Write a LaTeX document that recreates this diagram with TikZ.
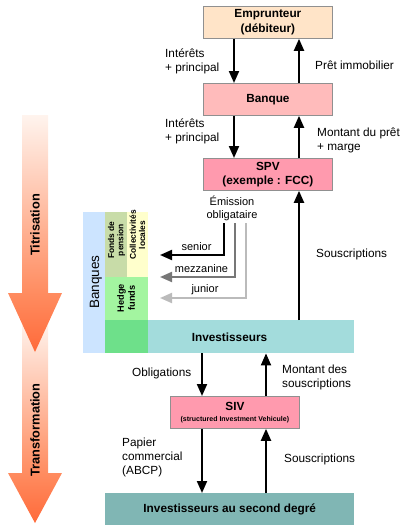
\documentclass[tikz,border=0pt]{standalone}
\usepackage{fontspec}
\setmainfont{Liberation Sans}
\usetikzlibrary{arrows.meta,calc}
\definecolor{cemp}{HTML}{FFE4C8}
\definecolor{cban}{HTML}{FFBBBB}
\definecolor{cspv}{HTML}{FF9AAE}
\definecolor{cbord}{HTML}{909090}
\definecolor{cinv}{HTML}{A3DCDC}
\definecolor{cdeg}{HTML}{80B6B4}
\definecolor{cbanques}{HTML}{CCE4FF}
\definecolor{cfonds}{HTML}{C8DCA8}
\definecolor{ccoll}{HTML}{FFFFCC}
\definecolor{chedge}{HTML}{A3F5A0}
\definecolor{cdark}{HTML}{6EE08A}
\definecolor{cmez}{HTML}{777777}
\definecolor{cjun}{HTML}{BBBBBB}
\definecolor{corA}{HTML}{FF8C60}
\definecolor{corB}{HTML}{FF6A3A}
\definecolor{corT}{HTML}{FFF4EE}
\begin{document}
\begin{tikzpicture}[x=1pt,y=-1pt,
  box/.style={draw=cbord, line width=0.8pt, inner sep=0pt, anchor=north west, align=center,
    font=\bfseries\fontsize{11.8}{14.5}\selectfont},
  area/.style={inner sep=0pt, anchor=north west, draw=none, align=center,
    font=\bfseries\fontsize{11.8}{14}\selectfont},
  lbl/.style={font=\fontsize{11.8}{14}\selectfont, align=left, inner sep=0pt},
  tlbl/.style={font=\fontsize{11}{13}\selectfont, align=center, inner sep=0pt},
  vlbl/.style={font=\bfseries\fontsize{8.4}{9.2}\selectfont, align=center, inner sep=0pt, rotate=90},
  big/.style={font=\bfseries\fontsize{12.8}{14}\selectfont, inner sep=0pt, rotate=90},
  flow/.style={line width=2pt, -{Triangle[width=10pt,length=12pt]}},
]
\useasboundingbox (0,0) rectangle (404,525);
% big arrows
\shade[top color=corT, bottom color=corA] (22,320) rectangle (48,473);
\shade[top color=corA, bottom color=corB] (8,473) -- (62,473) -- (35,523) -- cycle;
\shade[top color=corT, bottom color=corA] (22,115) rectangle (48,293);
\shade[top color=corA, bottom color=corB] (8,293) -- (62,293) -- (35,352) -- cycle;
\node[big] (tit) at (35,225) {Titrisation};
\node[big] (tra) at (35,430) {Transformation};
% boxes
\node[box, fill=cemp, minimum width=129pt, minimum height=32pt] (emp) at (203,6) {Emprunteur\\(débiteur)};
\node[box, fill=cban, minimum width=129pt, minimum height=32pt] (ban) at (203,83) {Banque};
\node[box, fill=cspv, minimum width=129pt, minimum height=32pt] (spv) at (203,158) {SPV\\(exemple : FCC)};
\node[box, fill=cspv, minimum width=129pt, minimum height=32pt, font=\bfseries\fontsize{11.8}{12.5}\selectfont] (siv) at (170,396) {SIV\\[-1pt]{\fontsize{7}{8}\selectfont(structured Investment Vehicule)}};
% investor areas
\node[area, fill=cbanques, minimum width=22pt, minimum height=141pt] (bqs) at (83,212) {};
\node[area, fill=cfonds, minimum width=22pt, minimum height=65pt] (fds) at (105,212) {};
\node[area, fill=ccoll, minimum width=21pt, minimum height=65pt] (col) at (127,212) {};
\node[area, fill=chedge, minimum width=43pt, minimum height=43pt] (hdg) at (105,277) {};
\node[area, fill=cinv, minimum width=249pt, minimum height=33pt] (inv) at (105,320) {};
\node[area, fill=cdark, minimum width=43pt, minimum height=33pt] (dkg) at (105,320) {};
\node[inner sep=0pt, font=\bfseries\fontsize{11.8}{14}\selectfont] (invt) at (229.5,337) {Investisseurs};
\node[area, fill=cdeg, minimum width=249pt, minimum height=32pt] (deg) at (105,493) {Investisseurs au second degré};
\node[inner sep=0pt, rotate=90, font=\fontsize{13.5}{15}\selectfont] (bqt) at (96,282) {Banques};
\node[vlbl] (fdt) at (116.5,240) {Fonds de\\pension};
\node[vlbl] (colt) at (137.5,235) {Collectivités\\locales};
\node[vlbl, font=\bfseries\fontsize{9.2}{11}\selectfont] (hdt) at (126,298) {Hedge\\funds};
% positions of flows
\coordinate (xa) at (234,0);
\coordinate (xb) at (299,0);
\coordinate (xc) at (202,0);
\coordinate (xd) at (266,0);
\draw[flow] (emp.south -| xa) -- (ban.north -| xa);
\draw[flow] (ban.north -| xb) -- (emp.south -| xb);
\draw[flow] (ban.south -| xa) -- (spv.north -| xa);
\draw[flow] (spv.north -| xb) -- (ban.south -| xb);
\draw[flow] (inv.north -| xb) -- (spv.south -| xb);
\draw[flow] (inv.south -| xc) -- (siv.north -| xc);
\draw[flow] (siv.north -| xd) -- (inv.south -| xd);
\draw[flow] (siv.south -| xc) -- (deg.north -| xc);
\draw[flow] (deg.north -| xd) -- (siv.south -| xd);
% tranches
\node[tlbl] (em) at (232,208.5) {Émission\\obligataire};
\coordinate (s1) at (224,223);
\coordinate (s2) at (235,223);
\coordinate (s3) at (246,223);
\coordinate (t1) at (160,255);
\coordinate (t2) at (160,277);
\coordinate (t3) at (160,298);
\draw[flow, black] (s1) |- (t1);
\draw[flow, cmez] (s2) |- (t2);
\draw[flow, cjun] (s3) |- (t3);
\node[tlbl] (sen) at (196.5,247) {senior};
\node[tlbl] (mez) at (201.5,268.5) {mezzanine};
\node[tlbl] (jun) at (205,290) {junior};
% labels
\node[lbl, anchor=west] (l1) at (165,61) {Intérêts\\+ principal};
\node[lbl, anchor=west] (l2) at (315,65) {Prêt immobilier};
\node[lbl, anchor=west] (l3) at (165,131.5) {Intérêts\\+ principal};
\node[lbl, anchor=west] (l4) at (317,140) {Montant du prêt\\+ marge};
\node[lbl, anchor=west] (l5) at (316,254) {Souscriptions};
\node[lbl, anchor=west] (l6) at (132,373.5) {Obligations};
\node[lbl, anchor=west] (l7) at (282,377) {Montant des\\souscriptions};
\node[lbl, anchor=west] (l8) at (122,457.5) {Papier\\commercial\\(ABCP)};
\node[lbl, anchor=west] (l9) at (284,459.5) {Souscriptions};
\end{tikzpicture}
\end{document}
